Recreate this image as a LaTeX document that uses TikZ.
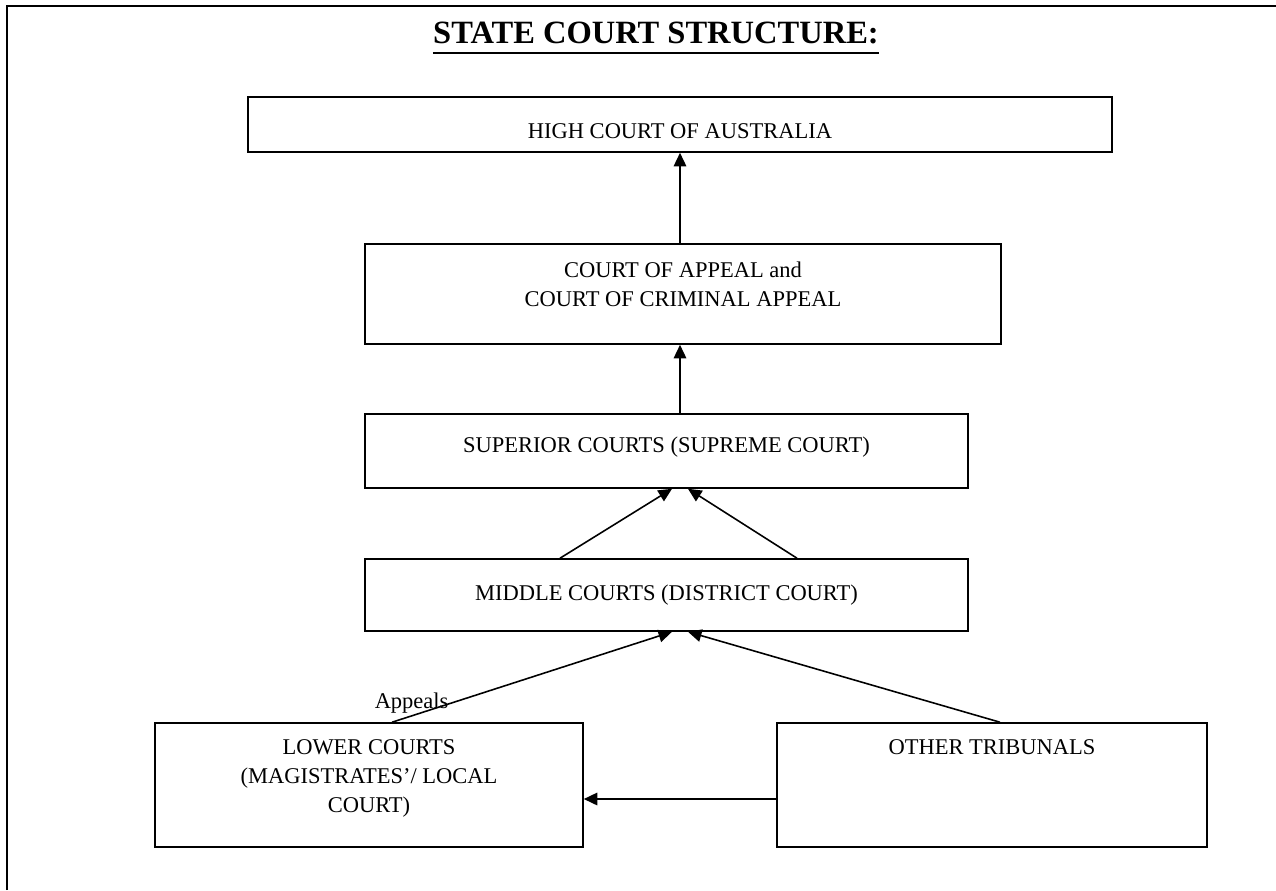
\documentclass[tikz,border=0pt]{standalone}
\usepackage{fontspec}
\setmainfont{Liberation Serif}
\usetikzlibrary{positioning, arrows.meta}
\tikzset{>={Triangle[length=0.27cm, width=0.25cm]}, % filled arrow heads
court/.style={draw, line width=0.9pt, align=center, inner sep=0pt}, % sets the properties for each court box
link/.style={->, line width=0.9pt}, % the appeal connectors
}

\begin{document}
\begin{tikzpicture}
    \useasboundingbox (0,0) rectangle (25.52,-17.8);
    \fontsize{12.8}{16.5}\selectfont
    \draw[line width=1.3pt] (0.14,-17.8) -- (0.14,-0.12) -- (25.52,-0.12);
    \node[anchor=base, inner sep=0pt] (title) at (13.12,-0.86) {\fontsize{18.5}{22}\selectfont\textbf{STATE COURT STRUCTURE:}};
    \draw[line width=1.7pt] ([yshift=-0.2cm]title.base west) -- ([yshift=-0.2cm]title.base east);
    \node[court, minimum width=17.28cm, minimum height=1.1cm, text height=0.55cm, text depth=0cm] (hca) at (13.6,-2.49) {HIGH COURT OF AUSTRALIA};
    \node[court, minimum width=12.72cm, minimum height=2.0cm, text depth=0.4cm] (cca) at (13.66,-5.88) {COURT OF APPEAL and\\COURT OF CRIMINAL APPEAL};
    \node[court, minimum width=12.06cm, minimum height=1.48cm, text depth=0.26cm] (sup) at (13.33,-9.02) {SUPERIOR COURTS (SUPREME COURT)};
    \node[court, minimum width=12.06cm, minimum height=1.44cm] (mid) at (13.33,-11.9) {MIDDLE COURTS (DISTRICT COURT)};
    \node[court, minimum width=8.56cm, minimum height=2.48cm, text depth=0.36cm] (low) at (7.38,-15.7) {LOWER COURTS\\(MAGISTRATES'/ LOCAL\\COURT)};
    \node[court, minimum width=8.6cm, minimum height=2.48cm, text depth=0.36cm] (oth) at (19.84,-15.7) {OTHER TRIBUNALS\\\mbox{}\\\mbox{}};
    \draw[link] (cca.north -| hca.south) -- (hca.south);
    \draw[link] (sup.north -| hca.south) -- (cca.south -| hca.south);
    \draw[link] ([xshift=-2.13cm]mid.north) -- ([xshift=0.11cm]sup.south);
    \draw[link] ([xshift=2.61cm]mid.north) -- ([xshift=0.43cm]sup.south);
    \draw[link] ([xshift=0.46cm]low.north) -- node[pos=0.07, above, inner sep=1pt]{Appeals} ([xshift=0.11cm]mid.south);
    \draw[link] ([xshift=0.16cm]oth.north) -- ([xshift=0.43cm]mid.south);
    \draw[link] ([yshift=-0.28cm]oth.west) -- ([yshift=-0.28cm]low.east);
\end{tikzpicture}
\end{document}
